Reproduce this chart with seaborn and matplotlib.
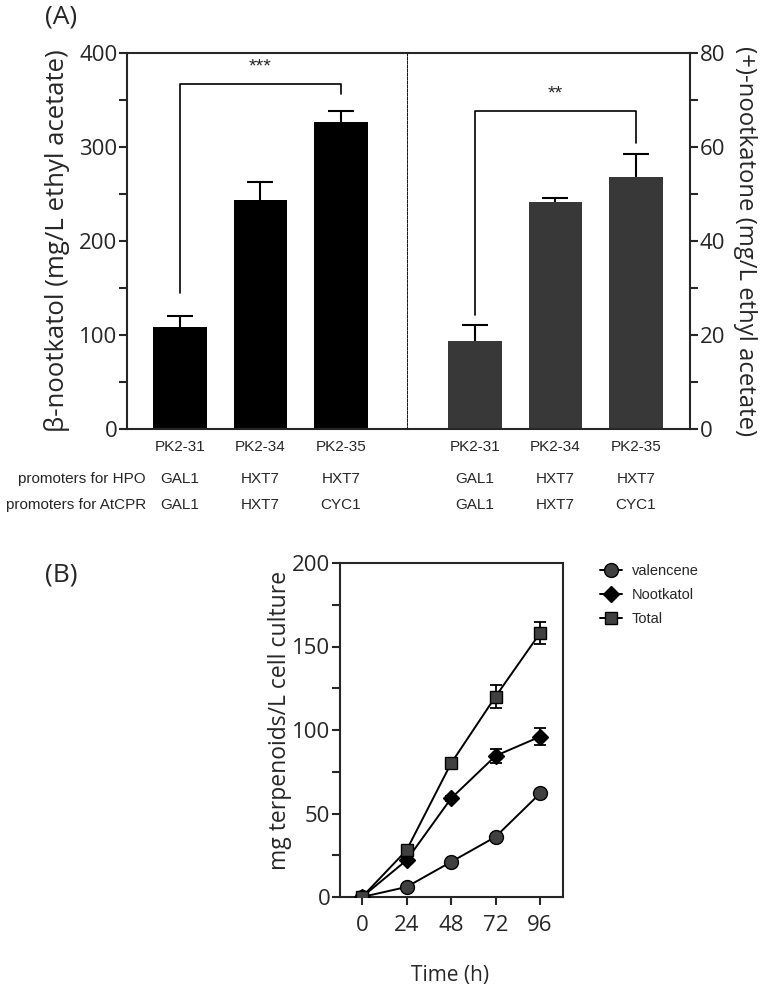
import matplotlib
matplotlib.use("Agg")
import matplotlib.pyplot as plt
from matplotlib.ticker import MultipleLocator
import seaborn as sns
import pandas as pd
import numpy as np

# ---- data (panel A) ----
strains = ["PK2-31", "PK2-34", "PK2-35"]
hpo_promoters = ["GAL1", "HXT7", "HXT7"]
cpr_promoters = ["GAL1", "HXT7", "CYC1"]
nootkatol_mg = [108, 244, 327]
nootkatol_sd = [12, 19, 11]
nootkatone_mg = [18.8, 48.3, 53.6]
nootkatone_sd = [3.4, 0.9, 5.0]

# ---- data (panel B) ----
time_h = [0, 24, 48, 72, 96]
valencene = [0, 6, 21, 36, 62]
valencene_sd = [0, 1, 1, 1.5, 2]
nootkatol_t = [0, 22, 59, 84.5, 96]
nootkatol_t_sd = [0, 1.5, 1.5, 4, 5]
total = [0, 28, 80, 120, 158]
total_sd = [0, 2, 2, 7, 6.5]

sns.set_style("ticks")
plt.rcParams["font.family"] = ["Open Sans", "DejaVu Sans"]
plt.rcParams["axes.linewidth"] = 1.5
ARIAL = "Liberation Sans"

fig = plt.figure(figsize=(7.67, 9.89), dpi=100)
W, H = 767, 989


def box(l, t, r, b):
    return [l / W, 1 - b / H, (r - l) / W, (b - t) / H]


axL = fig.add_axes(box(127, 53, 408, 429))
axR = fig.add_axes(box(408, 53, 690, 429))
axB = fig.add_axes(box(340, 563, 563, 897))

# ---- panel A bars ----
dfA = pd.DataFrame({"strain": strains, "nootkatol": nootkatol_mg, "nootkatone": nootkatone_mg})
pos = np.arange(len(strains))

sns.barplot(data=dfA, x="strain", y="nootkatol", color="black", saturation=1,
            width=0.67, linewidth=0, errorbar=None, ax=axL)
sns.barplot(data=dfA, x="strain", y="nootkatone", color="#383838", saturation=1,
            width=0.67, linewidth=0, errorbar=None, ax=axR)

for ax, vals, sd in [(axL, nootkatol_mg, nootkatol_sd), (axR, nootkatone_mg, nootkatone_sd)]:
    eb = ax.errorbar(pos, vals, yerr=[np.zeros(len(vals)), sd], fmt="none", ecolor="black",
                     elinewidth=1.5, capsize=9.5, capthick=1.5)
    eb[1][0].set_visible(False)  # only the upper half, like prism

axL.set_ylim(0, 400)
axL.set_xlim(-0.658, 2.832)
axR.set_ylim(0, 80)
axR.set_xlim(-0.832, 2.671)

axL.yaxis.set_major_locator(MultipleLocator(100))
axL.yaxis.set_minor_locator(MultipleLocator(50))
axR.yaxis.tick_right()
axR.yaxis.set_major_locator(MultipleLocator(20))
axR.yaxis.set_minor_locator(MultipleLocator(10))

for ax in (axL, axR):
    ax.tick_params(axis="y", which="both", length=6, width=1.5, pad=1, labelsize=16)
    ax.set_xticks(pos, strains, fontfamily=ARIAL, fontsize=11)
    ax.tick_params(axis="x", length=0, pad=8)
    ax.set_xlabel("")
    tr = ax.get_xaxis_transform()
    for i in pos:
        ax.text(i, -0.133, hpo_promoters[i], transform=tr, ha="center", va="center",
                fontsize=11, family=ARIAL)
        ax.text(i, -0.202, cpr_promoters[i], transform=tr, ha="center", va="center",
                fontsize=11, family=ARIAL)

# dotted divider between the two halves
axL.spines["right"].set_linestyle((0, (1, 1.2)))
axL.spines["right"].set_linewidth(1.3)
axL.spines["right"].set_color("black")
axR.spines["left"].set_visible(False)

axL.text(0.068, -0.133, "promoters for HPO", transform=axL.transAxes, ha="right",
         va="center", fontsize=11, family=ARIAL)
axL.text(0.068, -0.202, "promoters for AtCPR", transform=axL.transAxes, ha="right",
         va="center", fontsize=11, family=ARIAL)

# significance brackets
axL.plot([0, 0, 2, 2], [145, 367, 367, 356], color="black", lw=1.2)
axL.text(1, 385, "***", ha="center", va="center", fontsize=14, family=ARIAL)
axR.plot([0, 0, 2, 2], [24.3, 67.7, 67.7, 60.8], color="black", lw=1.2)
axR.text(1, 71.3, "**", ha="center", va="center", fontsize=14, family=ARIAL)

axL.set_ylabel("β-nootkatol (mg/L ethyl acetate)", fontsize=18.5)
axL.yaxis.set_label_coords(-0.249, 0.5)
axL.yaxis.label.set_va("center")

axR.yaxis.set_label_position("right")
axR.set_ylabel("(+)-nootkatone (mg/L ethyl acetate)", fontsize=17.2, rotation=270)
axR.yaxis.set_label_coords(1.195, 0.5)
axR.yaxis.label.set_va("center")

# ---- panel B lines ----
series = [
    ("valencene", valencene, valencene_sd, "o", "#404040", 10),
    ("Nootkatol", nootkatol_t, nootkatol_t_sd, "D", "black", 8),
    ("Total", total, total_sd, "s", "#404040", 8.5),
]
for name, vals, sd, mk, fc, ms in series:
    axB.errorbar(time_h, vals, yerr=sd, fmt="none", ecolor="black", elinewidth=1.3,
                 capsize=4, capthick=1.3, zorder=2)
    sns.lineplot(x=time_h, y=vals, ax=axB, color="black", lw=1.4, marker=mk,
                 markersize=ms, markerfacecolor=fc, markeredgecolor="black",
                 markeredgewidth=1, label=name, zorder=3)

axB.set_xlim(-11.9, 108.4)
axB.set_ylim(0, 200)
axB.set_xticks(time_h)
axB.yaxis.set_major_locator(MultipleLocator(50))
axB.yaxis.set_minor_locator(MultipleLocator(25))
axB.tick_params(axis="both", which="both", length=6, width=1.5, labelsize=16)
axB.tick_params(axis="y", pad=1)
axB.tick_params(axis="x", pad=7)

axB.set_ylabel("mg terpenoids/L cell culture", fontsize=16.5)
axB.yaxis.set_label_coords(-0.268, 0.53)
axB.yaxis.label.set_va("center")
axB.set_xlabel("Time (h)", fontsize=15)
axB.xaxis.set_label_coords(0.493, -0.234)
axB.xaxis.label.set_va("center")

axB.legend(loc="upper left", bbox_to_anchor=(600 / W, 1 - 564 / H),
           bbox_transform=fig.transFigure, frameon=False, borderpad=0, borderaxespad=0,
           handlelength=1.5, handletextpad=0.7, labelspacing=0.7,
           prop={"family": ARIAL, "size": 10.5})

fig.text(45 / W, 1 - 17 / H, "(A)", ha="left", va="center", fontsize=19)
fig.text(45 / W, 1 - 575 / H, "(B)", ha="left", va="center", fontsize=19)

fig.savefig("out.png", dpi=100)
